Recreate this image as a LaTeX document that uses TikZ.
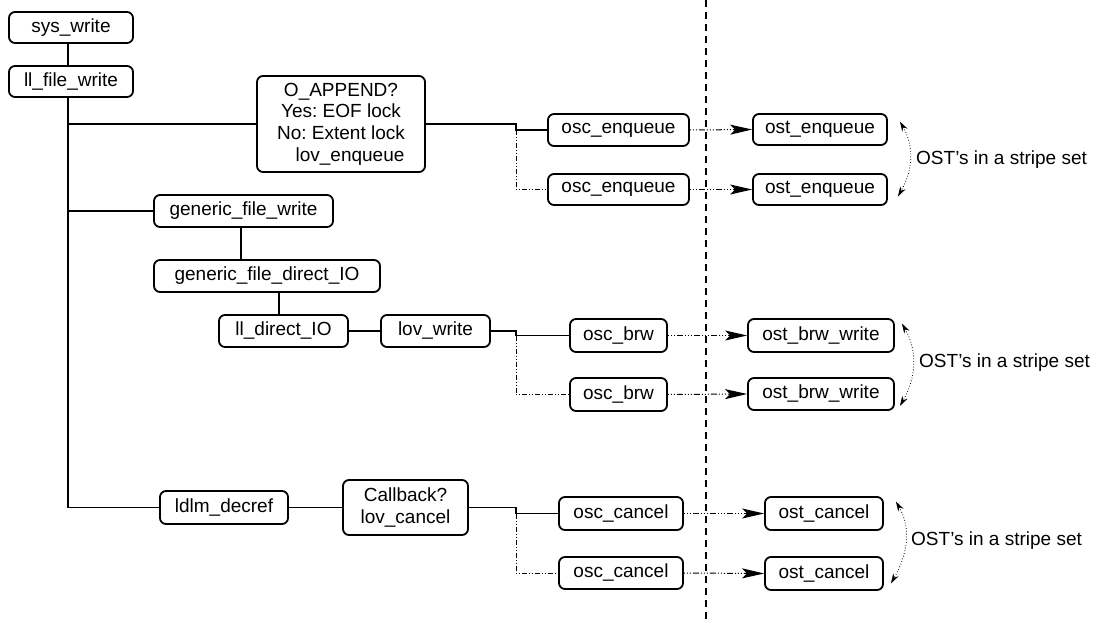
\documentclass[tikz,border=0pt]{standalone}
\usepackage{fontspec}
\setmainfont{Liberation Sans}
\usetikzlibrary{arrows.meta}
\frenchspacing
\begin{document}
\begin{tikzpicture}[x=1pt,y=-1pt,
  box/.style={draw, line width=1.8pt, rounded corners=6pt, inner sep=0pt,
    font=\fontsize{19}{21.7}\selectfont, align=center},
  conn/.style={line width=1.1pt},
  dd/.style={line width=1pt, dash pattern=on 5pt off 2pt on 1pt off 2pt on 1pt off 2pt},
  call/.style={line width=1pt, dash pattern=on 1pt off 2pt on 1pt off 2pt on 1pt off 2pt on 6pt off 2pt,
    -{Stealth[length=22pt,width=10pt,inset=5pt]}},
  spanarrow/.style={line width=0.8pt, dotted,
    {Stealth[length=10pt,width=6pt]}-{Stealth[length=10pt,width=6pt]}},
  lbl/.style={font=\fontsize{19}{22}\selectfont, anchor=west, inner sep=0pt}]
\useasboundingbox (0,0) rectangle (1101,623);

% nodes
\node[box, minimum width=124pt, minimum height=31pt] (sys) at (71,27.5) {sys\_write};
\node[box, minimum width=124pt, minimum height=31pt] (llfw) at (71,81.5) {ll\_file\_write};
\node[box, minimum width=168pt, minimum height=96pt] (oapp) at (341,124)
  {O\_APPEND?\\Yes: EOF lock\hspace*{24pt}\\No: Extent lock\hspace*{4pt}\\\hspace*{18pt}lov\_enqueue};
\node[box, minimum width=141pt, minimum height=32pt] (osce1) at (618.5,130) {osc\_enqueue};
\node[box, minimum width=141pt, minimum height=31pt] (osce2) at (618.5,189.5) {osc\_enqueue};
\node[box, minimum width=134pt, minimum height=31pt] (oste1) at (820,129.5) {ost\_enqueue};
\node[box, minimum width=134pt, minimum height=31pt] (oste2) at (820,189.5) {ost\_enqueue};

\node[box, minimum width=179pt, minimum height=32pt] (gfw) at (243.5,211) {generic\_file\_write};
\node[box, minimum width=226pt, minimum height=32pt] (gfdio) at (267,276) {generic\_file\_direct\_IO};
\node[box, minimum width=129pt, minimum height=32pt] (lldio) at (283.5,331) {ll\_direct\_IO};
\node[box, minimum width=109pt, minimum height=32pt] (lovw) at (435.5,331) {lov\_write};
\node[box, minimum width=97pt, minimum height=33pt] (oscb1) at (618.5,335.5) {osc\_brw};
\node[box, minimum width=97pt, minimum height=33pt] (oscb2) at (618.5,394.5) {osc\_brw};
\node[box, minimum width=146pt, minimum height=33pt] (ostb1) at (821,335.5) {ost\_brw\_write};
\node[box, minimum width=146pt, minimum height=32pt] (ostb2) at (821,394) {ost\_brw\_write};

\node[box, minimum width=128pt, minimum height=33pt] (ldlm) at (224,507.5) {ldlm\_decref};
\node[box, minimum width=125pt, minimum height=55pt] (cb) at (405.5,507.5) {Callback?\\lov\_cancel};
\node[box, minimum width=124pt, minimum height=33pt] (oscc1) at (621,513.5) {osc\_cancel};
\node[box, minimum width=124pt, minimum height=32pt] (oscc2) at (621,573) {osc\_cancel};
\node[box, minimum width=118pt, minimum height=33pt] (ostc1) at (824,513.5) {ost\_cancel};
\node[box, minimum width=118pt, minimum height=33pt] (ostc2) at (824,573.5) {ost\_cancel};

\node[lbl] (l1) at (916,160) {OST's in a stripe set};
\node[lbl] (l2) at (919,363) {OST's in a stripe set};
\node[lbl] (l3) at (911,541) {OST's in a stripe set};

% helper coordinates
\coordinate (t0) at (68,0);
\coordinate (c1) at (241,0);
\coordinate (c2) at (279,0);
\coordinate (j1) at (516,124);
\coordinate (j2) at (516,331);
\coordinate (j3) at (516,507.5);
\coordinate (dtop) at (706,0);
\coordinate (dbot) at (706,622);

% trunk
\draw[conn] (sys.south -| t0) -- (llfw.north -| t0);
\draw[conn] (llfw.south -| t0) |- (ldlm.west);
\draw[conn] (t0 |- oapp.west) -- (oapp.west);
\draw[conn] (t0 |- gfw.west) -- (gfw.west);
\draw[conn] (gfw.south -| c1) -- (gfdio.north -| c1);
\draw[conn] (gfdio.south -| c2) -- (lldio.north -| c2);
\draw[conn] (lldio.east) -- (lovw.west);
\draw[conn] (ldlm.east) -- (cb.west);

% fan-outs
\draw[conn] (oapp.east) -- (j1) |- (osce1.west);
\draw[dd] (j1 |- osce1.west) |- (osce2.west);
\draw[conn] (lovw.east) -- (j2) |- (oscb1.west);
\draw[dd] (j2 |- oscb1.west) |- (oscb2.west);
\draw[conn] (cb.east) -- (j3) |- (oscc1.west);
\draw[dd] (j3 |- oscc1.west) |- (oscc2.west);

% divider
\draw[line width=2pt, dash pattern=on 7pt off 5pt] (dtop) -- (dbot);

% calls across
\draw[call] (osce1.east) -- (oste1.west);
\draw[call] (osce2.east) -- (oste2.west);
\draw[call] (oscb1.east) -- (ostb1.west);
\draw[call] (oscb2.east) -- (ostb2.west);
\draw[call] (oscc1.east) -- (ostc1.west);
\draw[call] (oscc2.east) -- (ostc2.west);

% stripe set spans
\draw[spanarrow] ([xshift=12pt,yshift=8pt]oste1.east) to[out=-60,in=60] ([xshift=10pt,yshift=-7pt]oste2.east);
\draw[spanarrow] ([xshift=7pt,yshift=12pt]ostb1.east) to[out=-60,in=60] ([xshift=5pt,yshift=-12pt]ostb2.east);
\draw[spanarrow] ([xshift=12pt,yshift=12pt]ostc1.east) to[out=-60,in=60] ([xshift=7pt,yshift=-10pt]ostc2.east);
\end{tikzpicture}
\end{document}
